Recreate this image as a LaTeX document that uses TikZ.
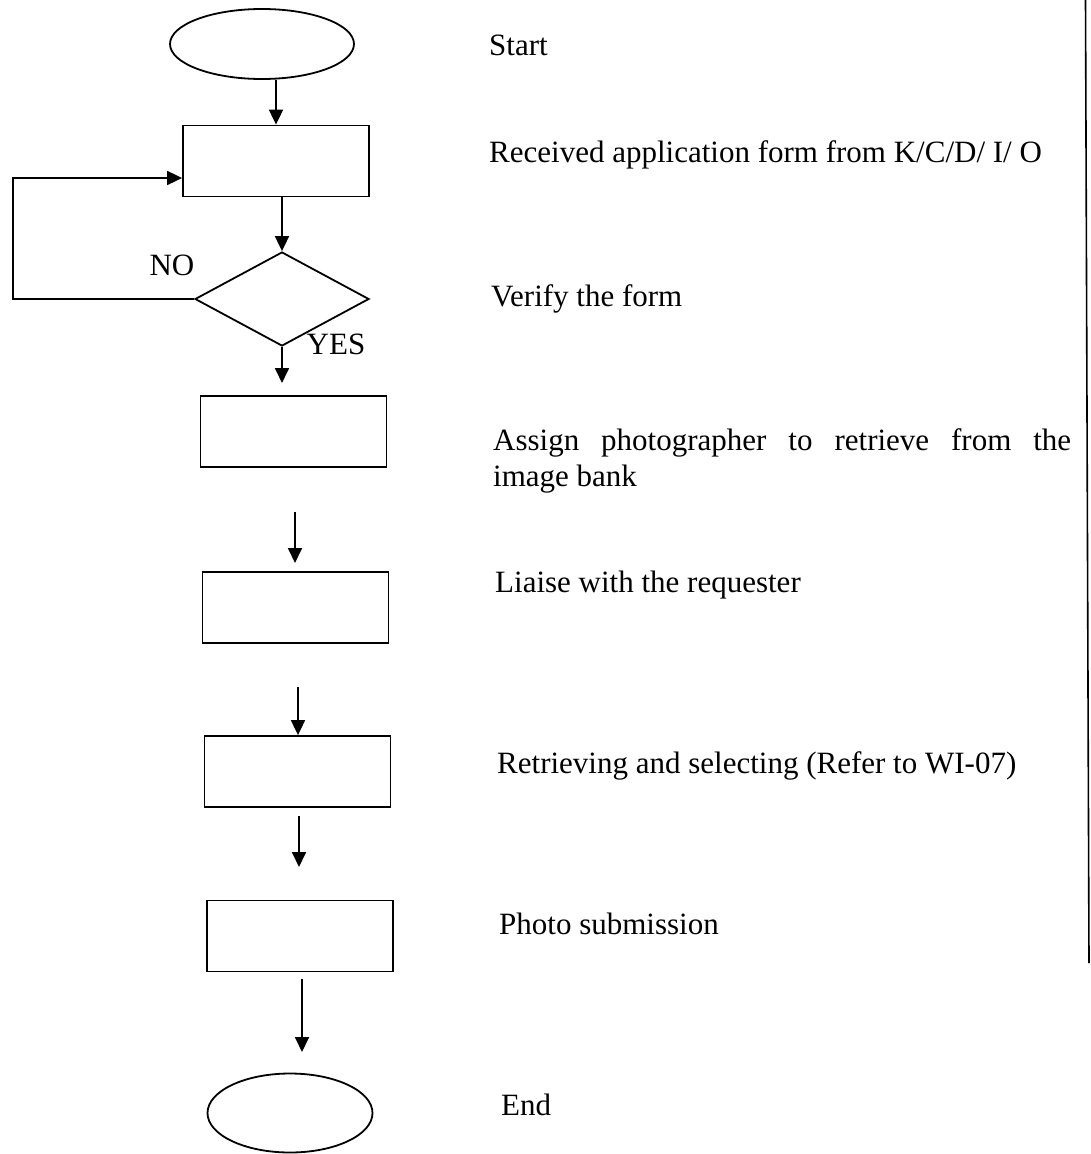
\documentclass[tikz,border=0pt]{standalone}
\usepackage{fontspec}
\setmainfont{Liberation Serif}
\usetikzlibrary{shapes.geometric,arrows.meta}
\begin{document}
\begin{tikzpicture}[x=1pt,y=-1pt,
  every node/.style={font=\fontsize{31}{37}\selectfont},
  shp/.style={draw,line width=1.8pt,inner sep=0pt},
  term/.style={shp,ellipse},
  proc/.style={shp,rectangle,minimum width=186pt,minimum height=71pt},
  dec/.style={shp,diamond,minimum width=174pt,minimum height=94pt},
  arr/.style={line width=1.8pt,-{Triangle[length=15pt,width=14pt]}},
  lbl/.style={anchor=base west,inner sep=0pt}]
\useasboundingbox (0,0) rectangle (1091,1154);
% shapes
\node[term,minimum width=184pt,minimum height=70pt] (start) at (262,44) {};
\node[proc] (b1) at (276,161) {};
\node[dec] (d) at (282,299) {};
\node[proc] (b2) at (293.5,431.5) {};
\node[proc] (b3) at (295.5,607.5) {};
\node[proc] (b4) at (297.5,771.5) {};
\node[proc] (b5) at (300,936) {};
\node[term,minimum width=165pt,minimum height=79pt] (end) at (290,1113) {};
% free arrow ends
\coordinate (a2) at (282,383);
\coordinate (a3s) at (295,512);
\coordinate (a3e) at (295,563);
\coordinate (a4s) at (298,687);
\coordinate (a5s) at (299,816);
\coordinate (a5e) at (299,867);
\coordinate (a6s) at (302,979);
\coordinate (a6e) at (302,1052);
\coordinate (lp) at (13,178);
% connectors
\draw[arr] (b1.north |- start.south) -- (b1.north);
\draw[arr] (d.north |- b1.south) -- (d.north);
\draw[arr] (d.west) -| (lp) -- (lp -| b1.west);
\draw[arr] (d.south) -- (a2);
\draw[arr] (a3s) -- (a3e);
\draw[arr] (a4s) -- (a4s |- b4.north);
\draw[arr] (a5s) -- (a5e);
\draw[arr] (a6s) -- (a6e);
% branch labels
\node[inner sep=0pt] (no) at (172,265) {NO};
\node[inner sep=0pt] (yes) at (336,344) {YES};
% right border line
\coordinate (r1) at (1085.5,0);
\coordinate (r2) at (1089,963);
\draw[line width=1.6pt] (r1) -- (r2);
% descriptions
\node[lbl] (t1) at (489,55) {Start};
\node[lbl] (t2) at (489,162) {Received application form from K/C/D/ I/ O};
\node[lbl] (t3) at (491,306) {Verify the form};
\node[lbl] (t4) at (493,450) {\makebox[578pt][s]{Assign photographer to retrieve from the}};
\node[lbl] (t4b) at (493,486) {image bank};
\node[lbl] (t5) at (495,592) {Liaise with the requester};
\node[lbl] (t6) at (497,773) {Retrieving and selecting (Refer to WI-07)};
\node[lbl] (t7) at (499,934) {Photo submission};
\node[lbl] (t8) at (501,1115) {End};
\end{tikzpicture}
\end{document}
